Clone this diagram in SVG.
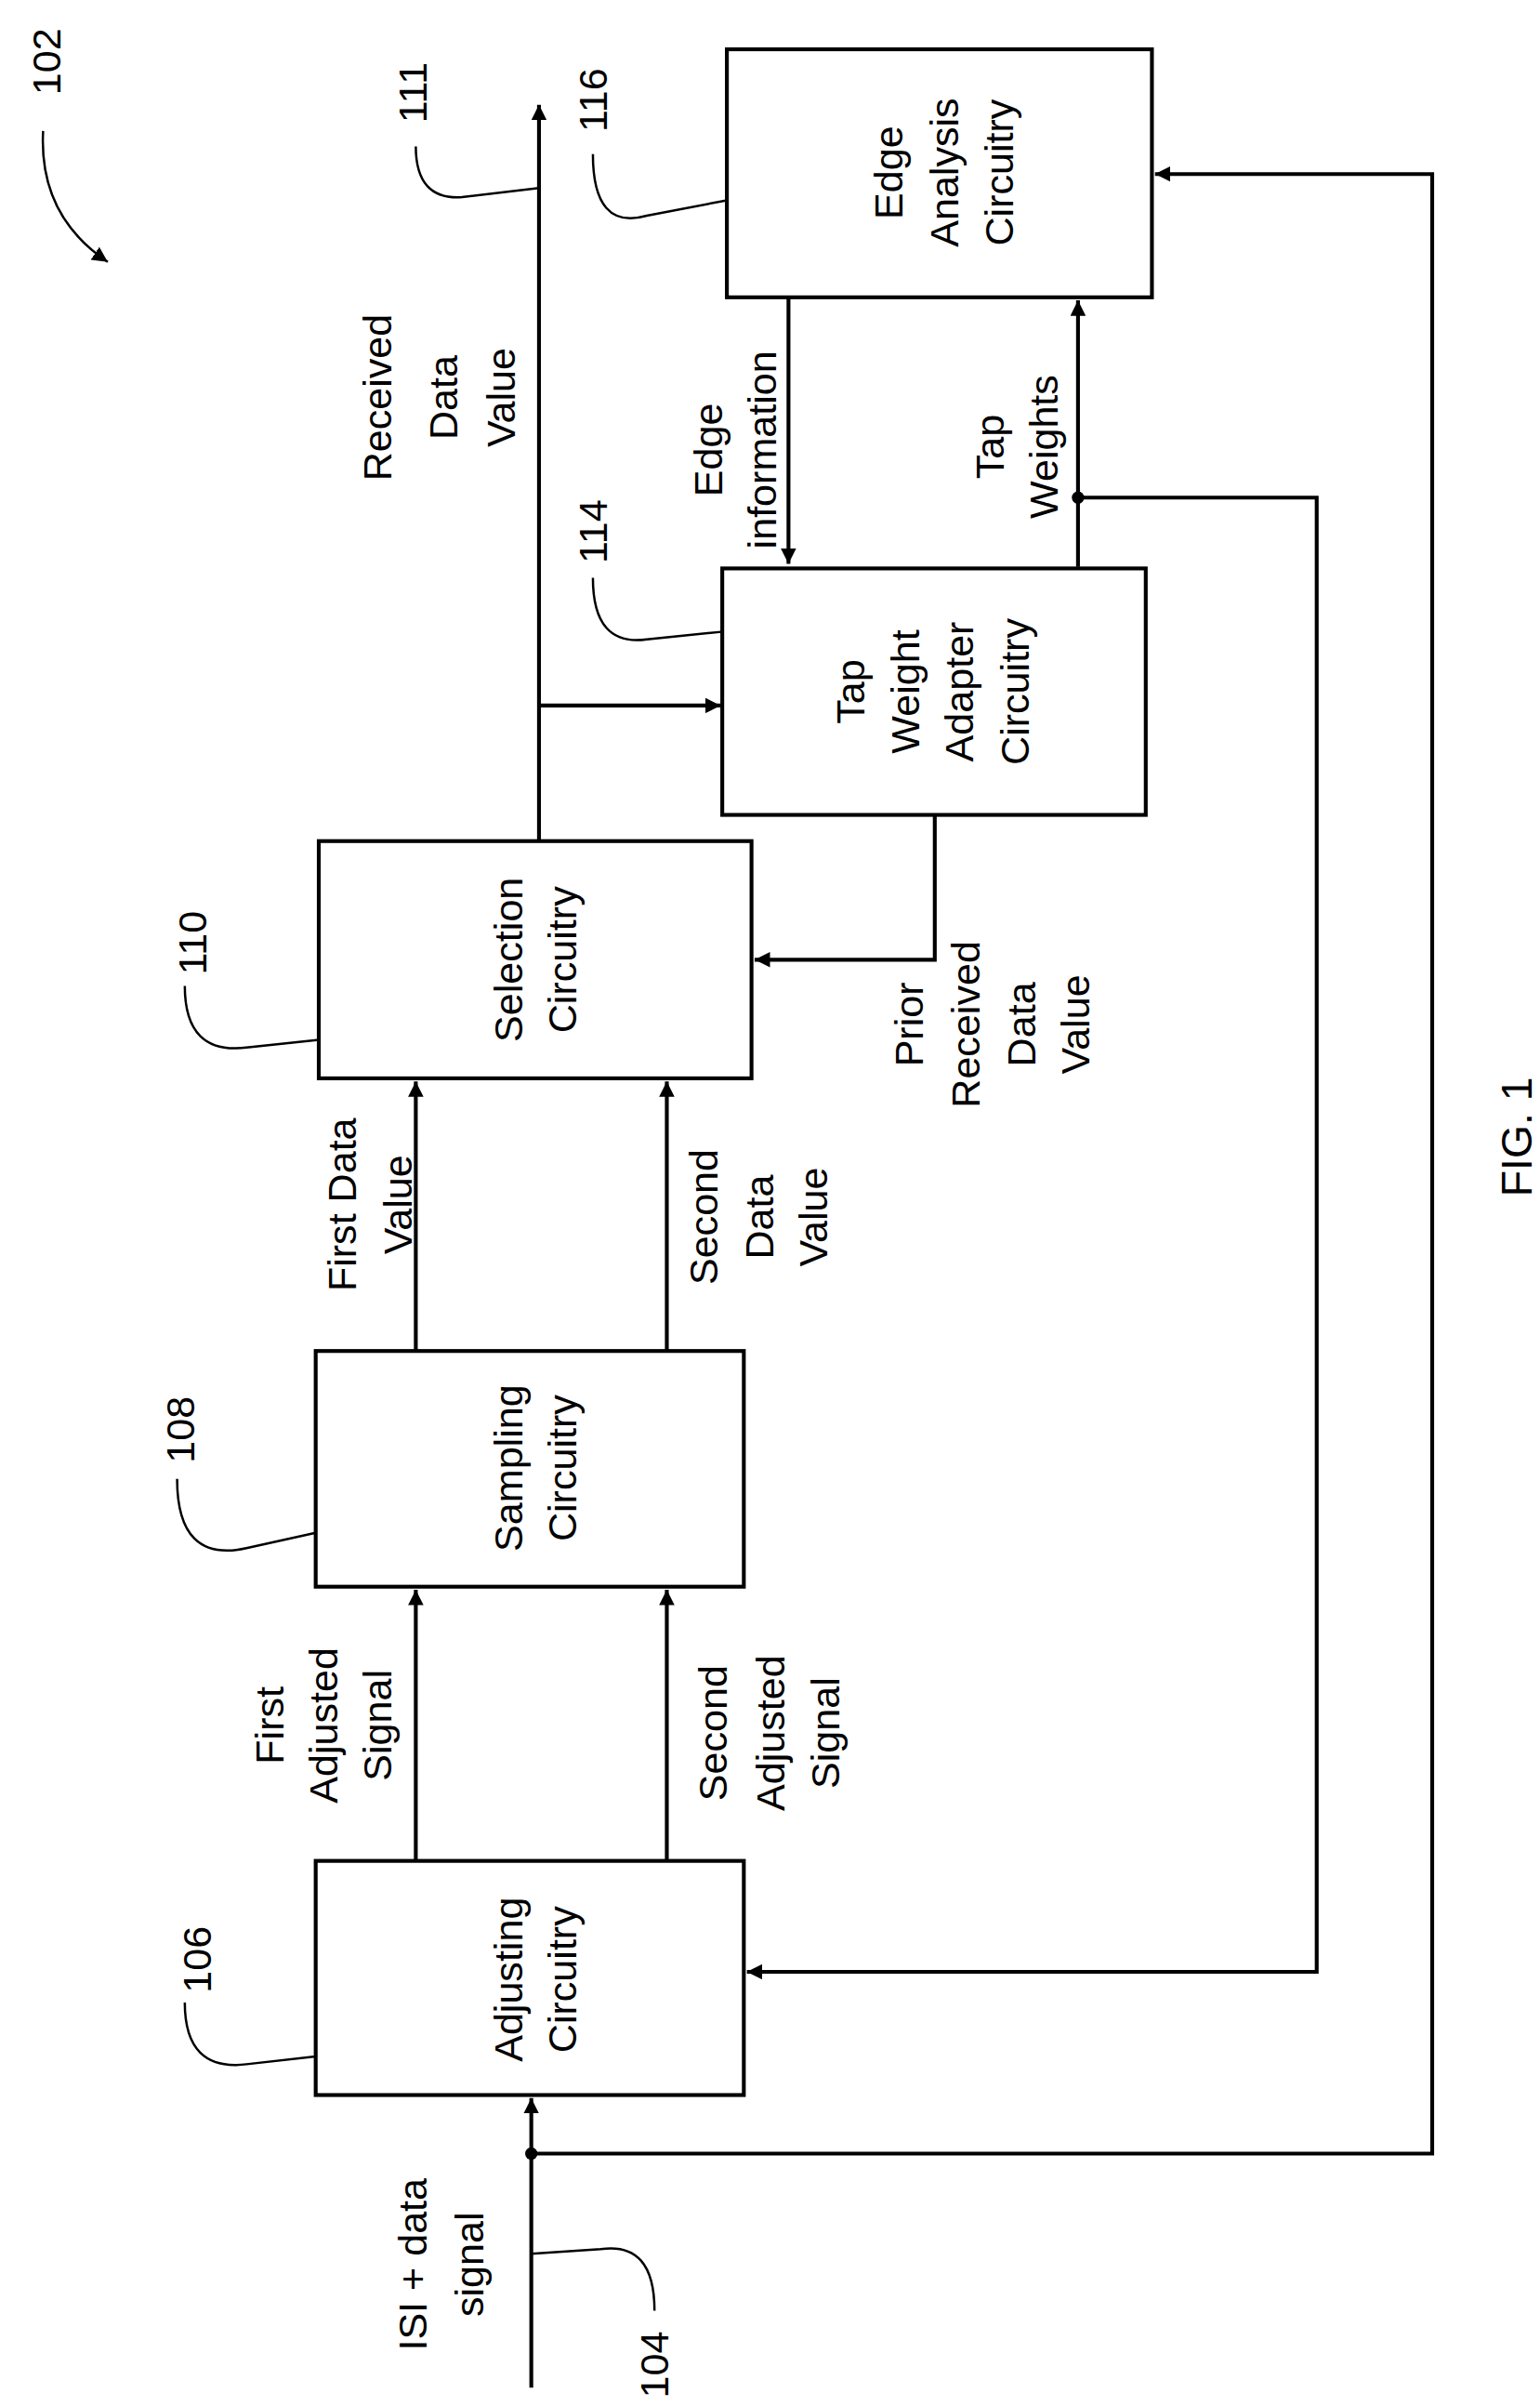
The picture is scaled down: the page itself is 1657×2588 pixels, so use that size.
<svg xmlns="http://www.w3.org/2000/svg" width="1657" height="2588" viewBox="0 0 1657 2588">
<defs>
<marker id="ah" viewBox="0 0 10 10" refX="10" refY="5" markerWidth="10" markerHeight="10" markerUnits="userSpaceOnUse" orient="auto"><path d="M0,0 L10,5 L0,10 z" fill="#000"/></marker>
<style>
.b{fill:#fff;stroke:#000;stroke-width:2.5}
.c{fill:none;stroke:#000;stroke-width:2.5}
.l{fill:none;stroke:#000;stroke-width:1.5}
text{font-family:"Liberation Sans",Arial,sans-serif;font-size:26px;fill:#000;text-anchor:middle;dominant-baseline:central}
</style>
</defs>
<rect width="1657" height="2588" fill="#fff"/>
<g transform="scale(1.657)">
<g id="connectors">
<path class="c" d="M345,1550 V1362" marker-end="url(#ah)"/>
<path class="c" d="M345,1398 H930 V113 H750" marker-end="url(#ah)"/>
<circle cx="345" cy="1398" r="4"/>
<path class="c" d="M270,1208 V1032" marker-end="url(#ah)"/>
<path class="c" d="M433,1208 V1032" marker-end="url(#ah)"/>
<path class="c" d="M270,877 V702" marker-end="url(#ah)"/>
<path class="c" d="M433,877 V702" marker-end="url(#ah)"/>
<path class="c" d="M350,546 V68" marker-end="url(#ah)"/>
<path class="c" d="M350,458 H468" marker-end="url(#ah)"/>
<path class="c" d="M607,528 V623 H490" marker-end="url(#ah)"/>
<path class="c" d="M512,193 V366" marker-end="url(#ah)"/>
<path class="c" d="M700,368 V195" marker-end="url(#ah)"/>
<path class="c" d="M700,323 H855 V1280 H485" marker-end="url(#ah)"/>
<circle cx="700" cy="323" r="4"/>
<path class="l" d="M28,85 Q25,140 70,170" marker-end="url(#ah)"/>
<path class="l" d="M270,95 Q270,130 300,128 L350,122"/>
<path class="l" d="M385,100 Q385,150 420,140 L472,130"/>
<path class="l" d="M385,375 Q385,420 420,415 L470,410"/>
<path class="l" d="M120,640 Q120,685 160,680 L207,675"/>
<path class="l" d="M115,960 Q115,1015 160,1005 L205,995"/>
<path class="l" d="M120,1300 Q120,1345 160,1340 L205,1335"/>
<path class="l" d="M425,1500 Q425,1455 390,1460 L345,1463"/>
</g>
<g id="n106"><rect class="b" x="205" y="1208" width="278" height="152"/>
<text transform="translate(330,1285) rotate(-90)">Adjusting</text><text transform="translate(365,1285) rotate(-90)">Circuitry</text></g>
<g id="n108"><rect class="b" x="205" y="877" width="278" height="153"/>
<text transform="translate(330,953) rotate(-90)">Sampling</text><text transform="translate(365,953) rotate(-90)">Circuitry</text></g>
<g id="n110"><rect class="b" x="207" y="546" width="281" height="154"/>
<text transform="translate(330,623) rotate(-90)">Selection</text><text transform="translate(365,623) rotate(-90)">Circuitry</text></g>
<g id="n114"><rect class="b" x="469" y="369" width="275" height="160"/>
<text transform="translate(552,449) rotate(-90)">Tap</text><text transform="translate(588,449) rotate(-90)">Weight</text><text transform="translate(623,449) rotate(-90)">Adapter</text><text transform="translate(659,449) rotate(-90)">Circuitry</text></g>
<g id="n116"><rect class="b" x="472" y="32" width="276" height="161"/>
<text transform="translate(577,112) rotate(-90)">Edge</text><text transform="translate(613,112) rotate(-90)">Analysis</text><text transform="translate(649,112) rotate(-90)">Circuitry</text></g>
<g id="labels">
<text transform="translate(30,40) rotate(-90)">102</text>
<text transform="translate(268,60) rotate(-90)">111</text>
<text transform="translate(385,65) rotate(-90)">116</text>
<text transform="translate(385,345) rotate(-90)">114</text>
<text transform="translate(125,612) rotate(-90)">110</text>
<text transform="translate(117,928) rotate(-90)">108</text>
<text transform="translate(128,1272) rotate(-90)">106</text>
<text transform="translate(425,1535) rotate(-90)">104</text>
<text transform="translate(245,258) rotate(-90)">Received</text><text transform="translate(288,258) rotate(-90)">Data</text><text transform="translate(325,258) rotate(-90)">Value</text>
<text transform="translate(460,292) rotate(-90)">Edge</text><text transform="translate(495,292) rotate(-90)">information</text>
<text transform="translate(643,290) rotate(-90)">Tap</text><text transform="translate(678,290) rotate(-90)">Weights</text>
<text transform="translate(590,665) rotate(-90)">Prior</text><text transform="translate(627,665) rotate(-90)">Received</text><text transform="translate(663,665) rotate(-90)">Data</text><text transform="translate(698,665) rotate(-90)">Value</text>
<text transform="translate(222,782) rotate(-90)">First Data</text><text transform="translate(258,782) rotate(-90)">Value</text>
<text transform="translate(457,790) rotate(-90)">Second</text><text transform="translate(493,790) rotate(-90)">Data</text><text transform="translate(528,790) rotate(-90)">Value</text>
<text transform="translate(175,1120) rotate(-90)">First</text><text transform="translate(210,1120) rotate(-90)">Adjusted</text><text transform="translate(245,1120) rotate(-90)">Signal</text>
<text transform="translate(463,1125) rotate(-90)">Second</text><text transform="translate(500,1125) rotate(-90)">Adjusted</text><text transform="translate(536,1125) rotate(-90)">Signal</text>
<text transform="translate(268,1470) rotate(-90)">ISI + data</text><text transform="translate(305,1470) rotate(-90)">signal</text>
<text transform="translate(985,738) rotate(-90)" style="font-size:28px">FIG. 1</text>
</g>
</g>
</svg>
